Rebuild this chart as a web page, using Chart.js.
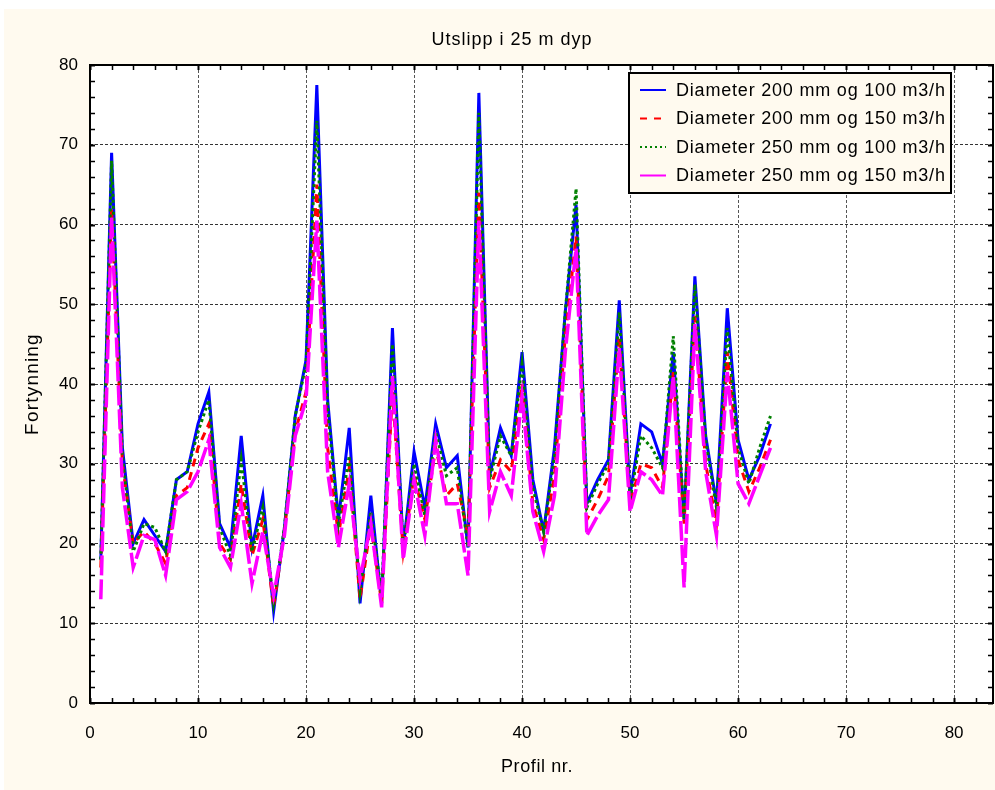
<!DOCTYPE html>
<html>
<head>
<meta charset="utf-8">
<script src="https://cdn.jsdelivr.net/npm/chart.js@4.4.0/dist/chart.umd.min.js"></script>
<style>
  html, body { margin: 0; padding: 0; background: #fff; }
  canvas { display: block; }
</style>
</head>
<body>
<canvas id="chart" width="995" height="790"></canvas>
<script>
// Profil nr. (x)
const profil = [1, 2, 3, 4, 5, 6, 7, 8, 9, 10, 11, 12, 13, 14, 15, 16, 17, 18, 19, 20,
  21, 22, 23, 24, 25, 26, 27, 28, 29, 30, 31, 32, 33, 34, 35, 36, 37, 38, 39, 40,
  41, 42, 43, 44, 45, 46, 47, 48, 49, 50, 51, 52, 53, 54, 55, 56, 57, 58, 59, 60,
  61, 62, 63];

// Fortynning per serie
const d200q100 = [18, 69, 32, 20, 23, 21, 19, 28, 29, 35, 39, 22.5, 19.5, 33.5, 19.5, 26, 11.5, 22, 36, 43,
  77.5, 38, 23, 34.5, 12.5, 26, 12.5, 47, 19.5, 31.5, 24.5, 35, 29.5, 31, 19.5, 76.5, 28.5, 34.5, 31, 44,
  28, 21.5, 32, 49, 62.5, 25, 28, 30.5, 50.5, 26, 35, 34, 30, 44, 23, 53.5, 33.5, 25, 49.5, 33,
  28, 31, 35];
const d200q150 = [17, 62, 30, 20, 21.5, 20, 17.5, 26, 27, 32, 35, 20, 18, 27.5, 18.5, 23, 12, 21.5, 34, 39,
  65, 32, 21, 29.5, 13, 22.5, 12.5, 39, 19, 28.5, 23, 32, 26, 27.5, 21, 64, 27, 30.5, 29, 40,
  25, 20.5, 28.5, 46, 58.5, 23, 25.5, 28.5, 46, 25, 30, 29.5, 27, 41.5, 22.5, 48.5, 30, 22.5, 44, 30.5,
  26.5, 29.5, 33];
const d250q100 = [18, 68, 31, 19, 22.5, 22, 19, 28, 29, 34, 38, 22, 18.5, 30.5, 19, 24.5, 12.5, 22, 36, 42.5,
  73, 37, 22.5, 31, 14, 24, 13.5, 45, 19.5, 30, 23.5, 34, 28.5, 29.5, 19.5, 74, 28, 33.5, 31, 42.5,
  27, 21.5, 31, 49, 64.5, 24.5, 27.5, 30, 49, 25.5, 33.5, 32, 29.5, 46, 23, 52.5, 33, 24.5, 47, 32,
  27.5, 32, 36];
const d250q150 = [13, 61, 27, 17, 21, 20.5, 16, 25.5, 26.5, 29, 33, 19.5, 17, 25, 15, 21.5, 13.5, 21, 33.5, 38,
  60.5, 29, 19.5, 27.5, 15.5, 22.5, 12, 41, 18, 28, 21, 33, 25, 25, 16, 60.5, 24, 29, 26, 38.5,
  24, 19, 26, 44, 57, 21, 23.5, 25.5, 44.5, 24, 29, 28, 26, 41, 14.5, 47.5, 29, 21, 41.5, 27.5,
  25, 28.5, 32];

const seriesLabels = [
  'Diameter 200 mm og 100 m3/h',
  'Diameter 200 mm og 150 m3/h',
  'Diameter 250 mm og 100 m3/h',
  'Diameter 250 mm og 150 m3/h'
];
const xTickValues = [0, 10, 20, 30, 40, 50, 60, 70, 80];
const yTickValues = [0, 10, 20, 30, 40, 50, 60, 70, 80];

const FONT = '"Liberation Sans", Arial, sans-serif';
const CREAM = '#fffaef';

function pts(vals) {
  return profil.map((p, i) => ({ x: p, y: vals[i] }));
}

function spacedText(ctx, text, x, y, font, spacing) {
  ctx.font = font;
  ctx.letterSpacing = spacing + 'px';
  ctx.fillText(text, x, y);
  ctx.letterSpacing = '0px';
}

const decor = {
  id: 'decor',
  beforeDraw(chart) {
    const { ctx, chartArea: a } = chart;
    ctx.save();
    ctx.fillStyle = '#fff';
    ctx.fillRect(0, 0, chart.width, chart.height);
    ctx.fillStyle = CREAM;
    ctx.fillRect(4, 9, chart.width - 4, chart.height - 9);
    ctx.fillStyle = '#fff';
    ctx.fillRect(a.left, a.top, a.right - a.left, a.bottom - a.top);
    ctx.restore();
  },
  afterDraw(chart) {
    const { ctx, chartArea: a, scales } = chart;
    const xs = scales.x, ys = scales.y;
    ctx.save();
    // frame
    ctx.strokeStyle = '#000';
    ctx.lineWidth = 2;
    ctx.strokeRect(a.left, a.top, a.right - a.left, a.bottom - a.top);
    // inward ticks
    for (let v = 0; v <= xs.max; v += 2) {
      const px = Math.round(xs.getPixelForValue(v)) + 0.5;
      ctx.lineWidth = v % 10 === 0 ? 2 : 1.5;
      ctx.beginPath();
      ctx.moveTo(px, a.bottom); ctx.lineTo(px, a.bottom - 5);
      ctx.moveTo(px, a.top); ctx.lineTo(px, a.top + 5);
      ctx.stroke();
    }
    for (let v = 0; v <= ys.max; v += 2) {
      const py = Math.round(ys.getPixelForValue(v)) + 0.5;
      ctx.lineWidth = v % 10 === 0 ? 2 : 1.5;
      ctx.beginPath();
      ctx.moveTo(a.left, py); ctx.lineTo(a.left + 5, py);
      ctx.moveTo(a.right, py); ctx.lineTo(a.right - 5, py);
      ctx.stroke();
    }
    // titles
    ctx.fillStyle = '#000';
    ctx.textAlign = 'center';
    ctx.textBaseline = 'middle';
    spacedText(ctx, 'Utslipp i 25 m dyp', 512, 40, '18px ' + FONT, 1);
    spacedText(ctx, 'Profil nr.', 537, 767, '18px ' + FONT, 0.6);
    ctx.save();
    ctx.translate(33, (a.top + a.bottom) / 2);
    ctx.rotate(-Math.PI / 2);
    spacedText(ctx, 'Fortynning', 0, 0, '19px ' + FONT, 1.2);
    ctx.restore();
    // legend
    const lx = 629, ly = 73, lw = 322, lh = 120;
    ctx.fillStyle = CREAM;
    ctx.fillRect(lx, ly, lw, lh);
    ctx.lineWidth = 2;
    ctx.strokeStyle = '#000';
    ctx.strokeRect(lx, ly, lw, lh);
    ctx.textAlign = 'left';
    chart.data.datasets.forEach((ds, i) => {
      const y = 90 + i * 28.5;
      ctx.strokeStyle = ds.borderColor;
      ctx.lineWidth = 2;
      ctx.setLineDash(ds.legendDash);
      ctx.beginPath();
      ctx.moveTo(640, y); ctx.lineTo(666, y);
      ctx.stroke();
      ctx.setLineDash([]);
      ctx.fillStyle = '#000';
      spacedText(ctx, ds.label, 676, y + 1, '18px ' + FONT, 0.8);
    });
    ctx.restore();
  }
};

new Chart(document.getElementById('chart'), {
  type: 'line',
  data: {
    datasets: [
      { label: seriesLabels[0], data: pts(d200q100), borderColor: '#0000ff', borderWidth: 3, borderDash: [], legendDash: [], order: 4 },
      { label: seriesLabels[1], data: pts(d200q150), borderColor: '#ff0000', borderWidth: 3, borderDash: [8, 6], legendDash: [7, 7], order: 3 },
      { label: seriesLabels[2], data: pts(d250q100), borderColor: '#008000', borderWidth: 3, borderDash: [3, 3], legendDash: [2, 3], order: 2 },
      { label: seriesLabels[3], data: pts(d250q150), borderColor: '#ff00ff', borderWidth: 3.5, borderDash: [20, 4], legendDash: [], order: 1 }
    ]
  },
  options: {
    responsive: false,
    animation: false,
    devicePixelRatio: 1,
    layout: { padding: { top: 65, right: 2, left: 0, bottom: 0 } },
    elements: {
      point: { radius: 0 },
      line: { tension: 0, fill: false, borderJoinStyle: 'miter', borderCapStyle: 'butt' }
    },
    plugins: { legend: { display: false }, title: { display: false }, tooltip: { enabled: false } },
    scales: {
      x: {
        type: 'linear',
        min: 0,
        max: 83.6,
        afterBuildTicks: s => { s.ticks = xTickValues.map(v => ({ value: v })); },
        afterFit: s => { s.height = 87; },
        ticks: { color: '#000', font: { family: FONT, size: 17 }, padding: 20, maxRotation: 0 },
        grid: { color: '#555', lineWidth: 1, drawTicks: false },
        border: { display: false, dash: [3, 2] },
        title: { display: false }
      },
      y: {
        min: 0,
        max: 80,
        afterBuildTicks: s => { s.ticks = yTickValues.map(v => ({ value: v })); },
        afterFit: s => { s.width = 90; },
        ticks: { color: '#000', font: { family: FONT, size: 17 }, padding: 12 },
        grid: { color: '#333', lineWidth: 1, drawTicks: false },
        border: { display: false, dash: [3, 2] },
        title: { display: false }
      }
    }
  },
  plugins: [decor]
});
</script>
</body>
</html>
